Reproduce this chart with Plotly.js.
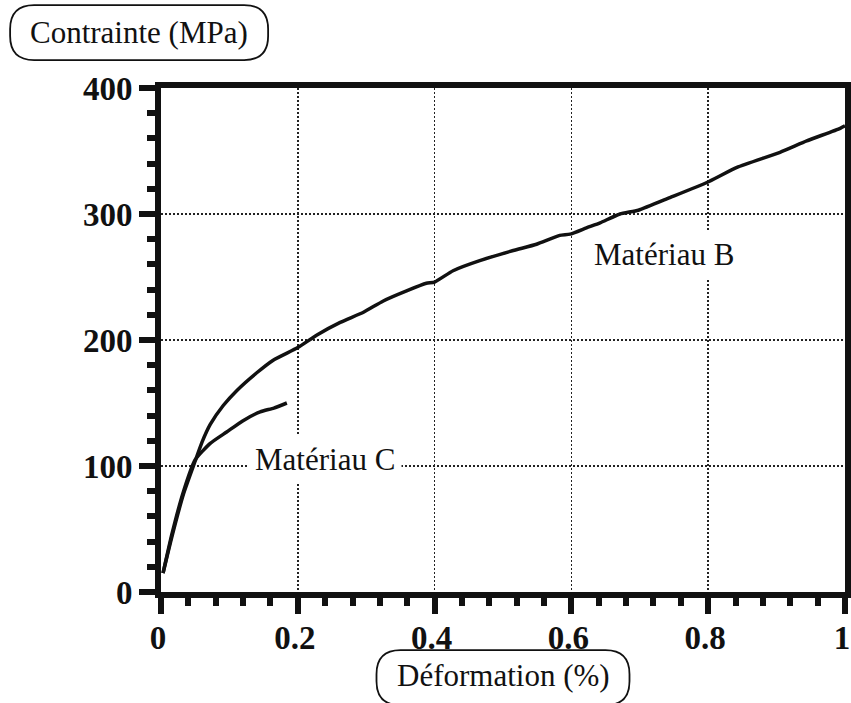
<!DOCTYPE html>
<html>
<head>
<meta charset="utf-8">
<script src="https://cdn.plot.ly/plotly-3.0.1.min.js"></script>
<style>html,body{margin:0;padding:0;background:#fff;}#chart{width:851px;height:703px;}</style>
</head>
<body>
<div id="chart"></div>
<script>
// Matériau B (strain %, stress MPa)
const strainB = [0.003, 0.016, 0.033, 0.05, 0.06, 0.072, 0.091, 0.111, 0.14, 0.164, 0.2, 0.228, 0.262, 0.296, 0.325, 0.359, 0.388, 0.4, 0.427, 0.466, 0.515, 0.549, 0.583, 0.598, 0.622, 0.642, 0.671, 0.698, 0.744, 0.798, 0.842, 0.905, 0.944, 0.993, 1.0];
const stressB = [15, 44, 78, 104, 119, 133, 148, 160, 174, 184, 194, 204, 214, 222, 231, 239, 245, 246, 255, 263, 271, 276, 283, 284, 289, 293, 300, 303, 313, 325, 337, 349, 358, 368, 370];
// Matériau C
const strainC = [0.003, 0.016, 0.033, 0.05, 0.072, 0.096, 0.12, 0.145, 0.165, 0.184];
const stressC = [15, 46, 80, 105, 118, 127, 136, 143, 146, 150];

const xTickVals = [0, 0.2, 0.4, 0.6, 0.8, 1];
const xTickText = ["0", "0.2", "0.4", "0.6", "0.8", "1"];
const yTickVals = [0, 100, 200, 300, 400];
const yTickText = ["0", "100", "200", "300", "400"];

const labelB = "Matériau B";
const labelC = "Matériau C";
const yTitle = "Contrainte (MPa)";
const xTitle = "Déformation (%)";

const serif = "Liberation Serif";

const traces = [
  {x: strainB, y: stressB, name: labelB, type: "scatter", mode: "lines",
   line: {color: "#111", width: 3.5, shape: "spline", smoothing: 0.5}},
  {x: strainC, y: stressC, name: labelC, type: "scatter", mode: "lines",
   line: {color: "#111", width: 3.5, shape: "spline", smoothing: 0.5}}
];

function pill(w, h, r) {
  const a = w / 2, b = h / 2;
  return `M ${-a + r},${-b} L ${a - r},${-b} Q ${a},${-b} ${a},${-b + r} L ${a},${b - r} Q ${a},${b} ${a - r},${b} L ${-a + r},${b} Q ${-a},${b} ${-a},${b - r} L ${-a},${-b + r} Q ${-a},${-b} ${-a + r},${-b} Z`;
}

const axisCommon = {
  showline: true, linewidth: 6, linecolor: "#111", mirror: true,
  ticks: "outside", tickcolor: "#111", tickwidth: 6,
  showgrid: true, gridcolor: "#222", gridwidth: 1.5, griddash: "2px,2px",
  zeroline: false, fixedrange: true, ticklabeloverflow: "allow",
  tickfont: {family: serif, size: 33, color: "#111", weight: "bold"},
  layer: "above traces"
};

const layout = {
  width: 851, height: 703,
  margin: {l: 161, r: 6, t: 88, b: 111},
  paper_bgcolor: "#fff", plot_bgcolor: "#fff",
  showlegend: false,
  xaxis: Object.assign({}, axisCommon, {
    range: [0, 1], tickmode: "array", tickvals: xTickVals, ticktext: xTickText,
    ticklen: 16, ticklabelstandoff: -5, ticklabelshift: -3,
    minor: {dtick: 0.04, ticks: "outside", ticklen: 8, tickwidth: 6, tickcolor: "#111", showgrid: false}
  }),
  yaxis: Object.assign({}, axisCommon, {
    range: [0, 400], tickmode: "array", tickvals: yTickVals, ticktext: yTickText,
    ticklen: 16,
    minor: {dtick: 20, ticks: "outside", ticklen: 8, tickwidth: 6, tickcolor: "#111", showgrid: false}
  }),
  annotations: [
    {x: 0.735, y: 268, xref: "x", yref: "y", text: labelB, showarrow: false,
     font: {family: serif, size: 31, color: "#111"}, bgcolor: "#fff", borderpad: 6,
     xanchor: "center", yanchor: "middle"},
    {x: 0.24, y: 105, xref: "x", yref: "y", text: labelC, showarrow: false,
     font: {family: serif, size: 31, color: "#111"}, bgcolor: "#fff", borderpad: 6,
     xanchor: "center", yanchor: "middle"},
    {x: -0.032, y: 1.11, xref: "paper", yref: "paper", text: yTitle, showarrow: false,
     font: {family: serif, size: 31, color: "#111"}, xanchor: "center", yanchor: "middle"},
    {x: 0.5, y: -0.166, xref: "paper", yref: "paper", text: xTitle, showarrow: false,
     font: {family: serif, size: 31, color: "#111"}, xanchor: "center", yanchor: "middle"}
  ],
  shapes: [
    {type: "path", xref: "paper", yref: "paper", xsizemode: "pixel", ysizemode: "pixel",
     xanchor: -0.032, yanchor: 1.11, path: pill(258, 55, 24),
     line: {color: "#111", width: 1.8}, fillcolor: "rgba(0,0,0,0)"},
    {type: "path", xref: "paper", yref: "paper", xsizemode: "pixel", ysizemode: "pixel",
     xanchor: 0.5, yanchor: -0.17, path: pill(253, 55, 24),
     line: {color: "#111", width: 1.8}, fillcolor: "rgba(0,0,0,0)"}
  ]
};

Plotly.newPlot("chart", traces, layout, {displayModeBar: false, staticPlot: true});
</script>
</body>
</html>
